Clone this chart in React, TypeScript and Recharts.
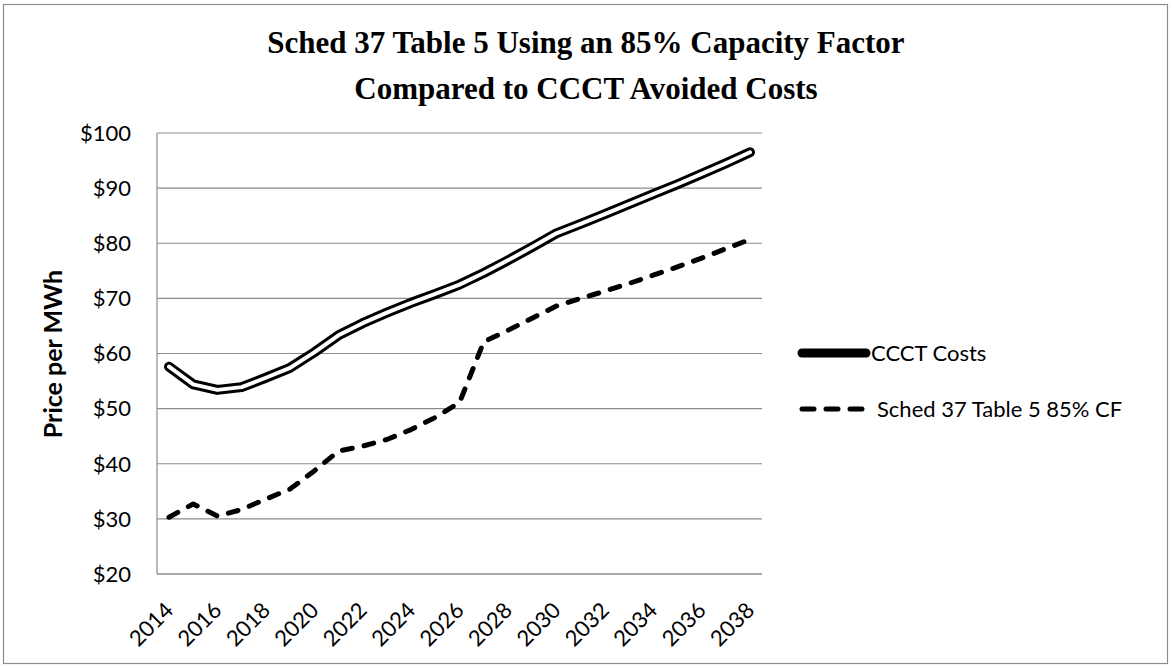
import React from 'react';
import { LineChart, Line, XAxis, YAxis, CartesianGrid } from 'recharts';

// Years on the category axis
const years = [
  '2014', '2015', '2016', '2017', '2018', '2019', '2020', '2021', '2022', '2023',
  '2024', '2025', '2026', '2027', '2028', '2029', '2030', '2031', '2032', '2033',
  '2034', '2035', '2036', '2037', '2038',
];

// CCCT avoided costs, $/MWh
const ccctCosts = [
  57.6, 54.4, 53.4, 53.9, 55.6, 57.4, 60.2, 63.3, 65.5, 67.4,
  69.2, 70.8, 72.5, 74.6, 76.9, 79.3, 81.8, 83.5, 85.3, 87.1,
  88.9, 90.7, 92.6, 94.5, 96.5,
];

// Schedule 37 Table 5 prices at an 85% capacity factor, $/MWh
const sched37Prices = [
  30.3, 32.7, 30.5, 31.7, 33.6, 35.4, 38.7, 42.3, 43.2, 44.4,
  46.2, 48.4, 51.1, 62.1, 64.2, 66.4, 68.6, 70.0, 71.3, 72.7,
  74.2, 75.7, 77.3, 79.0, 80.7,
];

const yTicks = [20, 30, 40, 50, 60, 70, 80, 90, 100];
const xTickLabels = years.filter((_, i) => i % 2 === 0);

const titleLines = ['Sched 37 Table 5 Using an 85% Capacity Factor', 'Compared to CCCT Avoided Costs'];
const yAxisTitle = 'Price per MWh';
const seriesNames = { ccct: 'CCCT Costs', sched: 'Sched 37 Table 5 85% CF' };

const data = years.map((year, i) => ({
  year,
  ccct: ccctCosts[i],
  sched: sched37Prices[i],
}));

const W = 1172;
const H = 668;
const FONT = 'Lato, "Open Sans", sans-serif';
const SERIF = '"Liberation Serif", "Times New Roman", serif';
const GRID = '#8c8c8c';

const XTick = (props: any) => {
  const { x, y, payload } = props;
  return (
    <text
      x={x}
      y={y}
      transform={`rotate(-45, ${x}, ${y})`}
      textAnchor="end"
      dx={-17}
      dy={25}
      fontFamily={FONT}
      fontSize={22}
      fill="#000"
    >
      {payload.value}
    </text>
  );
};

// Title, axis title, legend and outer frame drawn on top of the chart
function Decorations() {
  return (
    <svg
      width={W}
      height={H}
      style={{ position: 'absolute', left: 0, top: 0, pointerEvents: 'none' }}
    >
      <rect x={3.5} y={4.5} width={1164} height={659} fill="none" stroke={GRID} strokeWidth={1.2} />
      <text x={586} y={53} textAnchor="middle" fontFamily={SERIF} fontWeight="bold" fontSize={31}>
        {titleLines[0]}
      </text>
      <text x={586} y={99} textAnchor="middle" fontFamily={SERIF} fontWeight="bold" fontSize={31}>
        {titleLines[1]}
      </text>
      <text
        x={0}
        y={0}
        transform="translate(62, 354) rotate(-90)"
        textAnchor="middle"
        fontFamily={FONT}
        fontWeight="bold"
        fontSize={25}
      >
        {yAxisTitle}
      </text>

      <g>
        <line x1={802} y1={353} x2={866} y2={353} stroke="#000" strokeWidth={9} strokeLinecap="round" />
        <text x={871} y={361} fontFamily={FONT} fontSize={22}>
          {seriesNames.ccct}
        </text>
      </g>
      <g>
        <line
          x1={802}
          y1={409}
          x2={862}
          y2={409}
          stroke="#000"
          strokeWidth={5}
          strokeDasharray="12 12"
          strokeLinecap="round"
        />
        <text x={877} y={417} fontFamily={FONT} fontSize={22}>
          {seriesNames.sched}
        </text>
      </g>
    </svg>
  );
}

export default function App() {
  return (
    <div
      style={{
        position: 'absolute',
        left: 0,
        top: 0,
        width: W,
        height: H,
        background: '#fff',
        overflow: 'hidden',
      }}
    >
      <div style={{ position: 'absolute', left: 0, top: 0 }}>
        <LineChart
          width={W}
          height={H}
          data={data}
          margin={{ top: 133, right: 410, bottom: 0, left: 0 }}
        >
          <CartesianGrid vertical={false} stroke={GRID} strokeWidth={1.2} />
          <XAxis
            dataKey="year"
            ticks={xTickLabels}
            interval={0}
            padding={{ left: 12, right: 12 }}
            axisLine={{ stroke: GRID, strokeWidth: 1.2 }}
            tickLine={false}
            tick={<XTick />}
            height={94}
          />
          <YAxis
            domain={[20, 100]}
            ticks={yTicks}
            interval={0}
            width={157}
            axisLine={{ stroke: GRID, strokeWidth: 1.2 }}
            tickLine={false}
            tickMargin={20}
            tickFormatter={(v: number) => `$${v}`}
            tick={{ fontFamily: FONT, fontSize: 22, fill: '#000' }}
          />
          <Line
            dataKey="ccct"
            name={seriesNames.ccct}
            stroke="#000"
            strokeWidth={10}
            strokeLinecap="round"
            strokeLinejoin="round"
            dot={false}
            activeDot={false}
            isAnimationActive={false}
          />
          <Line
            dataKey="ccct"
            legendType="none"
            stroke="#fff"
            strokeWidth={4}
            strokeLinecap="round"
            strokeLinejoin="round"
            dot={false}
            activeDot={false}
            isAnimationActive={false}
          />
          <Line
            dataKey="sched"
            name={seriesNames.sched}
            stroke="#000"
            strokeWidth={5}
            strokeDasharray="10 12"
            strokeLinecap="round"
            strokeLinejoin="round"
            dot={false}
            activeDot={false}
            isAnimationActive={false}
          />
        </LineChart>
      </div>
      <Decorations />
    </div>
  );
}
